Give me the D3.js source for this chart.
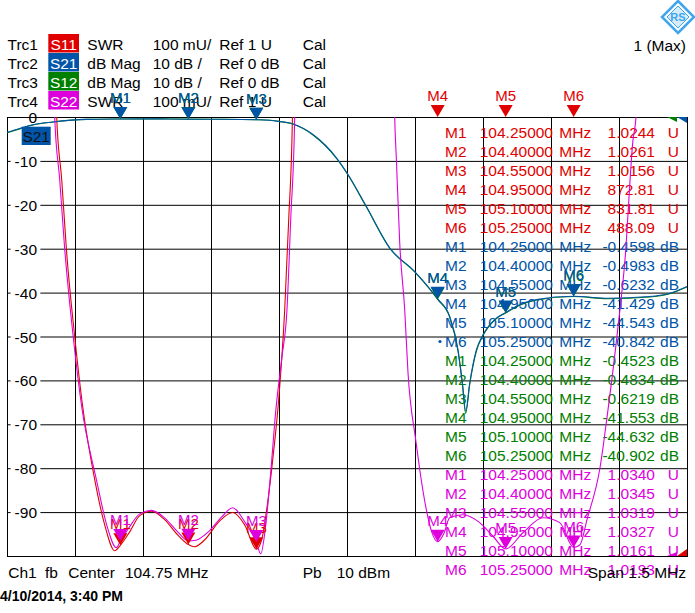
<!DOCTYPE html>
<html>
<head>
<meta charset="utf-8">
<script src="https://cdn.jsdelivr.net/npm/d3@7"></script>
<style>
  body { margin: 0; background: #fff; }
  svg { display: block; font-family: "Liberation Sans", Arial, sans-serif; }
</style>
</head>
<body>
<div class="chart"></div>
<script>
var svgWidth = 695;
var svgHeight = 613;

// diagram area inside the analyzer screen
var plot = { left: 7, top: 117, width: 680, height: 439 };
var plotBottom = plot.top + plot.height;
var plotRight = plot.left + plot.width;

var red = "#e00000";
var blue = "#0055a8";
var green = "#008000";
var magenta = "#dd00dd";

// trace list in the header
var traceNames = ["Trc1", "Trc2", "Trc3", "Trc4"];
var traceParams = ["S11", "S21", "S12", "S22"];
var traceFormats = ["SWR", "dB Mag", "dB Mag", "SWR"];
var traceScales = ["100 mU/", "10 dB /", "10 dB /", "100 mU/"];
var traceRefs = ["Ref 1 U", "Ref 0 dB", "Ref 0 dB", "Ref 1 U"];
var traceColors = [red, blue, green, magenta];

// axis ticks
var dbTicks = [0, -10, -20, -30, -40, -50, -60, -70, -80, -90, -100];
var freqTicks = [104.0, 104.15, 104.3, 104.45, 104.6, 104.75, 104.9, 105.05, 105.2, 105.35, 105.5];

// markers
var markerNames = ["M1", "M2", "M3", "M4", "M5", "M6"];
var markerFreqs = [104.25, 104.40, 104.55, 104.95, 105.10, 105.25];
var s11Markers = [1.0244, 1.0261, 1.0156, 872.81, 831.81, 488.09];
var s21Markers = [-0.4598, -0.4983, -0.6232, -41.429, -44.543, -40.842];
var s12Markers = [-0.4523, -0.4834, -0.6219, -41.553, -44.632, -40.902];
var s22Markers = [1.0340, 1.0345, 1.0319, 1.0327, 1.0161, 1.0193];

// Trc1 S11 SWR
var s11Freq = [104.0, 104.0942, 104.1096, 104.1207, 104.1310, 104.1493, 104.1670, 104.1935, 104.2155,
  104.2376, 104.25, 104.2707, 104.2927, 104.3185, 104.3476, 104.3765, 104.40, 104.4141, 104.4361,
  104.4692, 104.4979, 104.5243, 104.55, 104.5618, 104.5728, 104.5861, 104.5993, 104.6126, 104.6214,
  104.6296, 104.6390, 105.5];
var s11Swr = [20, 3.0, 2.0, 1.857, 1.699, 1.500, 1.340, 1.174, 1.071,
  1.012, 1.0244, 1.055, 1.092, 1.102, 1.083, 1.048, 1.0261, 1.021, 1.037,
  1.080, 1.099, 1.071, 1.0156, 1.037, 1.105, 1.219, 1.356, 1.561, 1.766,
  2.0, 3.0, 20];

// Trc4 S22 SWR
var s22Freq = [104.0, 104.0898, 104.1052, 104.1163, 104.1273, 104.1460, 104.1648, 104.1972, 104.2199,
  104.2413, 104.25, 104.2707, 104.2927, 104.3185, 104.3476, 104.3765, 104.40, 104.4162, 104.4471,
  104.4736, 104.4979, 104.5243, 104.55, 104.5597, 104.5707, 104.5817, 104.5928, 104.6060, 104.6176,
  104.6258, 104.6346, 104.6434, 104.75,
  104.8442, 104.8552, 104.8590, 104.8663, 104.8773, 104.8846, 104.9015, 104.9104, 104.9251, 104.9368,
  104.95, 104.9632, 104.9765, 105.0059, 105.0427, 105.0721, 105.10, 105.1382, 105.1824, 105.2192,
  105.25, 105.2640, 105.2794, 105.3081, 105.3257, 105.3478, 105.3632, 105.3809, 105.3875, 105.3985, 105.5];
var s22Swr = [20, 3.0, 2.0, 1.857, 1.699, 1.500, 1.340, 1.174, 1.071,
  1.019, 1.0340, 1.067, 1.096, 1.104, 1.087, 1.055, 1.0345, 1.036, 1.058,
  1.089, 1.110, 1.078, 1.0319, 1.005, 1.07, 1.19, 1.33, 1.45, 1.561,
  1.766, 2.0, 3.0, 20,
  3.0, 2.0, 1.902, 1.713, 1.561, 1.417, 1.265, 1.197, 1.105, 1.055,
  1.0327, 1.05, 1.087, 1.094, 1.076, 1.045, 1.0161, 1.053, 1.087, 1.076,
  1.0193, 1.0257, 1.083, 1.201, 1.333, 1.522, 1.675, 1.948, 2.0, 3.0, 20];

// Trc2 S21 / Trc3 S12 dB Mag
var s2xFreq = [104.0, 104.028, 104.0574, 104.1015, 104.1751, 104.25, 104.325, 104.40, 104.475, 104.55,
  104.5795, 104.5993, 104.6309, 104.675, 104.7266, 104.7522, 104.7928, 104.8442, 104.8993, 104.95,
  104.9765, 104.9948, 105.0046, 105.0118, 105.0207, 105.0355, 105.05, 105.0796, 105.10, 105.1236,
  105.1677, 105.25, 105.325, 105.4176, 105.46, 105.5];
var s21Db = [-3.5, -2.6, -1.75, -1.14, -0.55, -0.4598, -0.43, -0.4983, -0.52, -0.6232,
  -0.75, -1.0, -1.6, -4.0, -9.3, -13.1, -20.4, -29.8, -35.2, -41.429,
  -45.4, -53.0, -60.6, -67.0, -60.6, -53.0, -49.6, -45.8, -44.543, -43.1,
  -41.6, -40.842, -41.3, -40.9, -40.2, -38.6];
var s12Db = [-3.6, -2.7, -1.8, -1.15, -0.54, -0.4523, -0.42, -0.4834, -0.51, -0.6219,
  -0.74, -1.0, -1.6, -4.1, -9.4, -13.2, -20.5, -29.9, -35.3, -41.553,
  -45.6, -53.3, -60.9, -67.5, -60.9, -53.3, -49.8, -45.9, -44.632, -43.2,
  -41.7, -40.902, -41.4, -41.0, -40.3, -38.7];

var svg = d3.select(".chart")
  .append("svg")
  .attr("width", svgWidth)
  .attr("height", svgHeight)
  .style("font-size", "15.5px");

svg.append("rect").attr("width", svgWidth).attr("height", svgHeight).attr("fill", "#fff");

// scales
var x = d3.scaleLinear().domain([104.0, 105.5]).range([plot.left, plotRight]);
var yDb = d3.scaleLinear().domain([-100, 0]).range([plotBottom, plot.top]);
var ySwr = d3.scaleLinear().domain([1, 2]).range([plotBottom, plot.top]);

// ---- header trace list
var header = svg.append("g");
traceNames.forEach(function(name, i) {
  var base = 49.5 + i * 19;
  header.append("text").attr("x", 7.5).attr("y", base).text(name);
  header.append("rect")
    .attr("x", 48.3).attr("y", base - 15.5)
    .attr("width", 30.7).attr("height", 18.5)
    .attr("fill", traceColors[i]);
  header.append("text").attr("x", 63.7).attr("y", base)
    .attr("text-anchor", "middle").attr("fill", "#fff").text(traceParams[i]);
  header.append("text").attr("x", 87.3).attr("y", base).text(traceFormats[i]);
  header.append("text").attr("x", 152.7).attr("y", base).text(traceScales[i]);
  header.append("text").attr("x", 219.3).attr("y", base).text(traceRefs[i]);
  header.append("text").attr("x", 302.7).attr("y", base).text("Cal");
});

header.append("text").attr("x", 686).attr("y", 50.5)
  .attr("text-anchor", "end").text("1 (Max)");

// R&S logo
var logo = svg.append("g").attr("transform", "translate(678,17)");
logo.append("path").attr("d", "M0,-16L16,0L0,16L-16,0Z")
  .attr("fill", "none").attr("stroke", "#3fa6ee").attr("stroke-width", 2.5);
logo.append("path").attr("d", "M0,-11L11,0L0,11L-11,0Z")
  .attr("fill", "#d6ecfb").attr("stroke", "#3fa6ee").attr("stroke-width", 1);
logo.append("text").attr("x", 0).attr("y", 4).attr("text-anchor", "middle")
  .style("font-size", "11px").style("font-weight", "bold").attr("fill", "#3fa6ee").text("RS");

// ---- grid
var xGrid = svg.append("g")
  .attr("transform", `translate(0, ${plotBottom})`)
  .call(d3.axisBottom(x).tickValues(freqTicks).tickSize(-plot.height).tickFormat(""));
xGrid.select(".domain").remove();
xGrid.selectAll("line").attr("stroke", "#000");

var yGrid = svg.append("g")
  .attr("transform", `translate(${plot.left}, 0)`)
  .call(d3.axisRight(yDb).tickValues(dbTicks).tickSize(plot.width)
    .tickFormat(function(d) { return d === -100 ? "" : String(d); }));
yGrid.select(".domain").remove();
yGrid.selectAll("line").attr("stroke", "#000");
yGrid.attr("font-size", null).attr("font-family", null);
yGrid.selectAll("text")
  .attr("x", 30)
  .attr("dy", "0.36em")
  .attr("text-anchor", "end")
  .attr("fill", "#000")
  .each(function() {
    var t = d3.select(this);
    if (!t.text()) return;
    var bb = this.getBBox();
    d3.select(this.parentNode).insert("rect", "text")
      .attr("x", bb.x - 4).attr("y", bb.y)
      .attr("width", bb.width + 7).attr("height", bb.height)
      .attr("fill", "#fff");
  });

svg.append("rect")
  .attr("x", plot.left + 0.5).attr("y", plot.top + 0.5)
  .attr("width", plot.width).attr("height", plot.height)
  .attr("fill", "none").attr("stroke", "#000");

// ---- marker table
var tableSeries = [
  { values: s11Markers, color: red, unit: "U" },
  { values: s21Markers, color: blue, unit: "dB" },
  { values: s12Markers, color: green, unit: "dB" },
  { values: s22Markers, color: magenta, unit: "U" }
];
var fmtFreq = d3.format(".5f");
function fmtValue(v, unit) {
  if (unit === "U") return v < 10 ? v.toFixed(4) : v.toFixed(2);
  return Math.abs(v) < 10 ? v.toFixed(4) : v.toFixed(3);
}

var table = svg.append("g");
tableSeries.forEach(function(s, si) {
  s.values.forEach(function(v, i) {
    var base = 137.5 + 19 * (si * 6 + i);
    var row = table.append("g").attr("fill", s.color);
    row.append("text").attr("x", 445).attr("y", base).text(markerNames[i]);
    row.append("text").attr("x", 553).attr("y", base).attr("text-anchor", "end").text(fmtFreq(markerFreqs[i]));
    row.append("text").attr("x", 559.3).attr("y", base).text("MHz");
    row.append("text").attr("x", 655).attr("y", base).attr("text-anchor", "end").text(fmtValue(v, s.unit));
    row.append("text").attr("x", 679).attr("y", base).attr("text-anchor", "end").text(s.unit);
  });
});
// active marker bullet
table.append("circle").attr("cx", 440).attr("cy", 341.5).attr("r", 1.6).attr("fill", blue);

// ---- traces
svg.append("clipPath").attr("id", "plotClip")
  .append("rect").attr("x", plot.left).attr("y", plot.top)
  .attr("width", plot.width).attr("height", plot.height);

var traces = svg.append("g").attr("clip-path", "url(#plotClip)");

function drawTrace(freqs, vals, yScale, color) {
  var line = d3.line()
    .x(function(d, i) { return x(freqs[i]); })
    .y(function(d) { return yScale(d); })
    .curve(d3.curveMonotoneX);
  traces.append("path")
    .attr("d", line(vals))
    .attr("fill", "none")
    .attr("stroke", color)
    .attr("stroke-width", 1.1);
}

drawTrace(s11Freq, s11Swr, ySwr, red);
drawTrace(s2xFreq, s12Db, yDb, green);
drawTrace(s2xFreq, s21Db, yDb, blue);
drawTrace(s22Freq, s22Swr, ySwr, magenta);

// ---- markers on traces
var markers = svg.append("g").style("font-size", "15px");
function drawMarkers(values, yScale, color) {
  values.forEach(function(v, i) {
    var mx = x(markerFreqs[i]);
    var my = Math.max(plot.top, Math.min(plotBottom, yScale(v)));
    markers.append("path")
      .attr("d", `M${mx - 7},${my - 12}L${mx + 7},${my - 12}L${mx},${my}Z`)
      .attr("fill", color);
    markers.append("text")
      .attr("x", mx).attr("y", my - 16)
      .attr("text-anchor", "middle")
      .attr("fill", color)
      .text(markerNames[i]);
  });
}
drawMarkers(s11Markers, ySwr, red);
drawMarkers(s12Markers, yDb, green);
drawMarkers(s21Markers, yDb, blue);
drawMarkers(s22Markers, ySwr, magenta);

// reference position indicators at the right edge
var refs = svg.append("g");
refs.append("path").attr("d", `M${plotRight - 20},${plot.top}L${plotRight - 10},${plot.top}L${plotRight - 10},${plot.top + 5}Z`).attr("fill", green);
refs.append("path").attr("d", `M${plotRight - 10},${plot.top}L${plotRight},${plot.top}L${plotRight},${plot.top + 6}Z`).attr("fill", blue);
refs.append("path").attr("d", `M${plotRight - 20},${plotBottom}L${plotRight - 10},${plotBottom}L${plotRight - 10},${plotBottom - 4}Z`).attr("fill", magenta);
refs.append("path").attr("d", `M${plotRight - 10},${plotBottom}L${plotRight},${plotBottom}L${plotRight},${plotBottom - 7}Z`).attr("fill", red);

// active trace label
svg.append("rect").attr("x", 21.7).attr("y", 126.7).attr("width", 29).attr("height", 18.3).attr("fill", blue);
svg.append("text").attr("x", 36.2).attr("y", 142).attr("text-anchor", "middle").attr("fill", "#111").text("S21");

// ---- footer
var footer = svg.append("g");
footer.append("text").attr("x", 8.3).attr("y", 578).text("Ch1");
footer.append("text").attr("x", 45).attr("y", 578).text("fb");
footer.append("text").attr("x", 68.3).attr("y", 578).text("Center");
footer.append("text").attr("x", 125).attr("y", 578).text("104.75 MHz");
footer.append("text").attr("x", 302.7).attr("y", 578).text("Pb");
footer.append("text").attr("x", 336.7).attr("y", 578).text("10 dBm");
footer.append("text").attr("x", 686).attr("y", 578).attr("text-anchor", "end").text("Span  1.5 MHz");

svg.append("text").attr("x", 0).attr("y", 600.5)
  .style("font-size", "14px").style("font-weight", "bold")
  .text("4/10/2014, 3:40 PM");
</script>
</body>
</html>
